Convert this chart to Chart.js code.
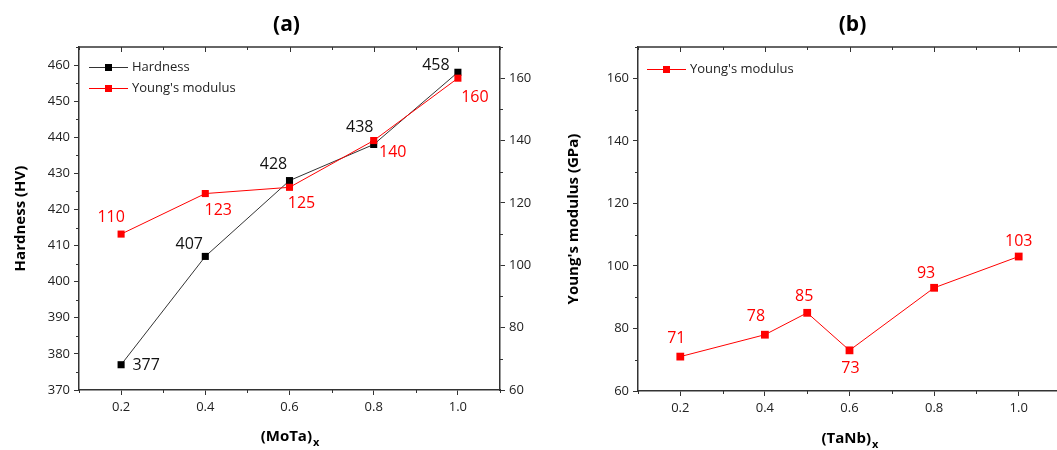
<!DOCTYPE html>
<html>
<head>
<meta charset="utf-8">
<script src="https://cdn.jsdelivr.net/npm/chart.js@4"></script>
<style>
  html, body { margin: 0; padding: 0; background: #fff; overflow: hidden; }
  #wrap { position: relative; width: 1057px; height: 450px; overflow: hidden; }
  #chartA { position: absolute; left: 0; top: 0; }
  #chartB { position: absolute; left: 560px; top: 0; }
</style>
</head>
<body>
<div id="wrap">
  <canvas id="chartA" width="560" height="450"></canvas>
  <canvas id="chartB" width="520" height="450"></canvas>
</div>
<script>
// (a) hardness and Young's modulus vs (MoTa)x
const xMoTa = [0.2, 0.4, 0.6, 0.8, 1.0];
const hardness = [377, 407, 428, 438, 458];
const youngMoTa = [110, 123, 125, 140, 160];

// (b) Young's modulus vs (TaNb)x
const xTaNb = [0.2, 0.4, 0.5, 0.6, 0.8, 1.0];
const youngTaNb = [71, 78, 85, 73, 93, 103];

// tick labels
const xTicks = [0.2, 0.4, 0.6, 0.8, 1.0];
const hardnessTicks = [370, 380, 390, 400, 410, 420, 430, 440, 450, 460];
const youngTicks = [60, 80, 100, 120, 140, 160];

// where each value label sits relative to its point (dx, dy)
const hardLabelOffsets = [[25, 1], [-16, -12], [-16, -16], [-14, -17], [-22, -7]];
const youngALabelOffsets = [[-10, -17], [13, 17], [12, 16], [19, 12], [17, 19]];
const youngBLabelOffsets = [[-4, -18], [-9, -18], [-3, -16], [1, 18], [-8, -14], [0, -15]];

const FONT = "'Open Sans', 'Noto Sans', sans-serif";
const AXIS = '#333';
const RED = '#ff0000';

function pts(xs, ys) {
  return xs.map((x, i) => ({ x: x, y: ys[i] }));
}

function minorValues(majors, min, max) {
  const step = majors[1] - majors[0];
  const out = [];
  for (let v = majors[0] - step / 2; v <= max + 1e-9; v += step) {
    if (v >= min - 1e-9) out.push(v);
  }
  return out;
}

function tickAxis(ticks, labelFmt) {
  return {
    afterBuildTicks: s => { s.ticks = ticks.map(v => ({ value: v })); },
    ticks: {
      callback: labelFmt || (v => v),
      font: { family: FONT, size: 13 },
      color: '#222',
      padding: 4
    },
    grid: { drawOnChartArea: false, drawTicks: true, tickLength: 5, color: AXIS, lineWidth: 1 },
    border: { display: true, color: AXIS, width: 1.5 }
  };
}

// frame, minor ticks, titles, legend and value labels
const decor = {
  id: 'decor',
  afterDraw(chart, args, opts) {
    const ctx = chart.ctx;
    const a = chart.chartArea;
    const sx = chart.scales.x;
    ctx.save();

    // top border with inward ticks
    ctx.strokeStyle = AXIS;
    ctx.lineWidth = 1.5;
    ctx.beginPath();
    ctx.moveTo(a.left, a.top);
    ctx.lineTo(a.right, a.top);
    ctx.stroke();

    ctx.lineWidth = 1;
    ctx.beginPath();
    xTicks.forEach(v => {
      const px = Math.round(sx.getPixelForValue(v)) + 0.5;
      ctx.moveTo(px, a.top); ctx.lineTo(px, a.top + 5);
    });
    minorValues(xTicks, sx.min, sx.max).forEach(v => {
      const px = Math.round(sx.getPixelForValue(v)) + 0.5;
      ctx.moveTo(px, a.top); ctx.lineTo(px, a.top + 3);
      ctx.moveTo(px, a.bottom); ctx.lineTo(px, a.bottom + 3);
    });
    // minor ticks on the y axes
    (opts.yMinor || []).forEach(m => {
      const s = chart.scales[m.id];
      const edge = s.position === 'left' ? a.left : a.right;
      const dir = s.position === 'left' ? -1 : 1;
      minorValues(m.ticks, s.min, s.max).forEach(v => {
        const py = Math.round(s.getPixelForValue(v)) + 0.5;
        ctx.moveTo(edge, py); ctx.lineTo(edge + dir * 3, py);
      });
    });
    ctx.stroke();

    // panel title
    ctx.fillStyle = '#000';
    ctx.textAlign = 'center';
    ctx.textBaseline = 'middle';
    ctx.font = 'bold 21px ' + FONT;
    ctx.fillText(opts.title, (a.left + a.right) / 2 + (opts.titleShift || 0), 25);

    // x title with subscript
    ctx.font = 'bold 15px ' + FONT;
    const mainW = ctx.measureText(opts.xTitle).width;
    ctx.font = 'bold 11px ' + FONT;
    const subW = ctx.measureText(opts.xSub).width;
    const cx = (a.left + a.right) / 2;
    const x0 = cx - (mainW + subW) / 2;
    const ty = opts.xTitleY;
    ctx.textAlign = 'left';
    ctx.font = 'bold 15px ' + FONT;
    ctx.fillText(opts.xTitle, x0, ty);
    ctx.font = 'bold 11px ' + FONT;
    ctx.fillText(opts.xSub, x0 + mainW + 1, ty + 6);

    // legend
    ctx.font = '13px ' + FONT;
    chart.data.datasets.forEach((ds, i) => {
      const ly = a.top + opts.legendTop + i * 21;
      const lx = a.left + opts.legendLeft;
      ctx.strokeStyle = ds.borderColor;
      ctx.lineWidth = 1;
      ctx.beginPath();
      ctx.moveTo(lx, ly + 0.5); ctx.lineTo(lx + 39, ly + 0.5);
      ctx.stroke();
      ctx.fillStyle = ds.backgroundColor;
      ctx.fillRect(lx + 19.5 - 3.5, ly - 3, 7, 7);
      ctx.fillStyle = '#222';
      ctx.textAlign = 'left';
      ctx.textBaseline = 'middle';
      ctx.fillText(ds.label, lx + 43, ly);
    });

    // value labels
    ctx.font = '16px ' + FONT;
    ctx.textAlign = 'center';
    ctx.textBaseline = 'middle';
    chart.data.datasets.forEach((ds, i) => {
      const meta = chart.getDatasetMeta(i);
      ctx.fillStyle = ds.labelColor;
      meta.data.forEach((el, j) => {
        const off = ds.labelOffsets[j];
        ctx.fillText(String(ds.data[j].y), el.x + off[0], el.y + off[1]);
      });
    });

    ctx.restore();
  }
};

const fmt1 = v => Number(v).toFixed(1);

new Chart(document.getElementById('chartA'), {
  type: 'line',
  data: {
    datasets: [
      {
        label: 'Hardness',
        data: pts(xMoTa, hardness),
        yAxisID: 'y',
        order: 2,
        borderColor: '#333',
        backgroundColor: '#000',
        borderWidth: 1,
        pointStyle: 'rect',
        pointRadius: 5,
        pointBorderWidth: 0,
        pointBackgroundColor: '#000',
        labelColor: '#111',
        labelOffsets: hardLabelOffsets
      },
      {
        label: "Young's modulus",
        data: pts(xMoTa, youngMoTa),
        yAxisID: 'y1',
        order: 1,
        borderColor: RED,
        backgroundColor: RED,
        borderWidth: 1,
        pointStyle: 'rect',
        pointRadius: 5,
        pointBorderWidth: 0,
        pointBackgroundColor: RED,
        labelColor: RED,
        labelOffsets: youngALabelOffsets
      }
    ]
  },
  options: {
    responsive: false,
    animation: false,
    layout: { padding: { left: 12, top: 47, right: 0, bottom: 0 } },
    plugins: {
      legend: { display: false },
      tooltip: { enabled: false },
      decor: {
        title: '(a)', titleShift: -3,
        xTitle: '(MoTa)', xSub: 'x', xTitleY: 437,
        legendLeft: 10, legendTop: 20,
        yMinor: [{ id: 'y', ticks: hardnessTicks }, { id: 'y1', ticks: youngTicks }]
      }
    },
    scales: {
      x: Object.assign(tickAxis(xTicks, fmt1), {
        type: 'linear', min: 0.1, max: 1.1,
        afterFit: s => { s.height = 60; }
      }),
      y: Object.assign(tickAxis(hardnessTicks), {
        position: 'left', min: 370, max: 465,
        title: { display: true, text: 'Hardness (HV)', font: { family: FONT, size: 15, weight: 'bold' }, color: '#000', padding: 0 },
        afterFit: s => { s.width = 67; }
      }),
      y1: Object.assign(tickAxis(youngTicks), {
        position: 'right', min: 60, max: 170,
        afterFit: s => { s.width = 60; }
      })
    }
  },
  plugins: [decor]
});

new Chart(document.getElementById('chartB'), {
  type: 'line',
  data: {
    datasets: [
      {
        label: "Young's modulus",
        data: pts(xTaNb, youngTaNb),
        borderColor: RED,
        backgroundColor: RED,
        borderWidth: 1,
        pointStyle: 'rect',
        pointRadius: 5.5,
        pointBorderWidth: 0,
        pointBackgroundColor: RED,
        labelColor: RED,
        labelOffsets: youngBLabelOffsets
      }
    ]
  },
  options: {
    responsive: false,
    animation: false,
    layout: { padding: { left: 5, top: 47, right: 19, bottom: 0 } },
    plugins: {
      legend: { display: false },
      tooltip: { enabled: false },
      decor: {
        title: '(b)', titleShift: 3,
        xTitle: '(TaNb)', xSub: 'x', xTitleY: 439,
        legendLeft: 9, legendTop: 22,
        yMinor: [{ id: 'y', ticks: youngTicks }]
      }
    },
    scales: {
      x: Object.assign(tickAxis(xTicks, fmt1), {
        type: 'linear', min: 0.1, max: 1.1,
        afterFit: s => { s.height = 59; }
      }),
      y: Object.assign(tickAxis(youngTicks), {
        position: 'left', min: 60, max: 170,
        title: { display: true, text: "Young's modulus (GPa)", font: { family: FONT, size: 15, weight: 'bold' }, color: '#000', padding: 0 },
        afterFit: s => { s.width = 73; }
      })
    }
  },
  plugins: [decor]
});
</script>
</body>
</html>
